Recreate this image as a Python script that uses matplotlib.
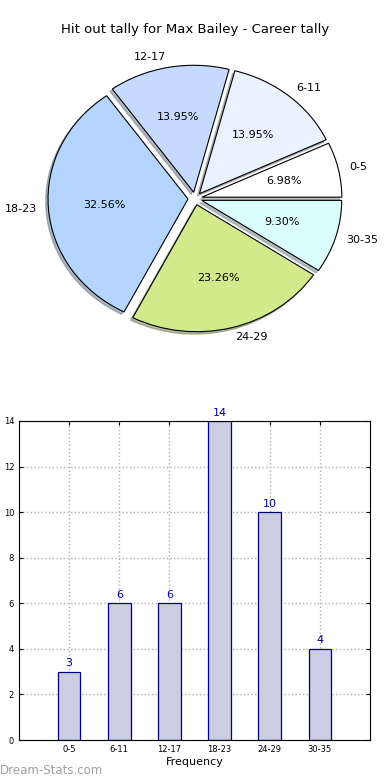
import numpy as np
import matplotlib
matplotlib.use('Agg')
import matplotlib.pyplot as plt

# data
bins = ['0-5', '6-11', '12-17', '18-23', '24-29', '30-35']
counts = [3, 6, 6, 14, 10, 4]
pie_colors = ['#ffffff', '#eaf1ff', '#c6d9ff', '#b3d5ff', '#d0ea8c', '#dbfffe']

fig = plt.figure(figsize=(3.9, 7.8), dpi=100)

# pie chart (old style, slightly squashed)
ax1 = fig.add_axes([0.0, 0.5147, 1.0, 0.4615])
wedges, texts, autotexts = ax1.pie(counts, labels=bins, colors=pie_colors,
                                   explode=[0.05] * len(counts),
                                   shadow={'ox': -0.012, 'oy': -0.014, 'shade': 0.5},
                                   autopct='%1.2f%%', startangle=0,
                                   labeldistance=1.08, pctdistance=0.6,
                                   wedgeprops={'edgecolor': 'black', 'linewidth': 0.8},
                                   textprops={'fontsize': 8})
ax1.set_aspect('auto')
ax1.set_xlim(-1.393, 1.393)
ax1.set_ylim(-1.417, 1.417)
fig.text(0.5, 1 - 30 / 780, 'Hit out tally for Max Bailey - Career tally',
         ha='center', va='center', fontsize=9.5)

# bar chart
ax2 = fig.add_axes([19 / 390, 40 / 780, 351 / 390, 319 / 780])
x = np.arange(len(bins))
ax2.bar(x, counts, width=0.45, color='#ccccE2', edgecolor='#000080',
        linewidth=0.9, zorder=2)
for xi, c in zip(x, counts):
    ax2.text(xi, c + 0.15, str(c), ha='center', va='bottom',
             fontsize=8, color='#0000aa')
ax2.set_xlim(-1, 6)
ax2.set_ylim(0, 14)
ax2.set_xticks(x)
ax2.set_xticklabels(bins)
ax2.set_yticks(range(0, 15, 2))
ax2.tick_params(labelsize=6, direction='in', top=True, right=True, length=3)
ax2.grid(True, linestyle=':', color='#b0b0b0', linewidth=1, zorder=0)
ax2.set_axisbelow(True)
ax2.set_xlabel('Frequency', fontsize=8, labelpad=2)
ax2.set_ylabel('Hit Out Tally', fontsize=7)
ax2.yaxis.set_label_coords(-0.058, 0.5)

fig.text(0.0, 1 - 770 / 780, 'Dream-Stats.com', ha='left', va='center',
         fontsize=8.5, color='#a0a0a0')

plt.savefig('out.png', dpi=100)
